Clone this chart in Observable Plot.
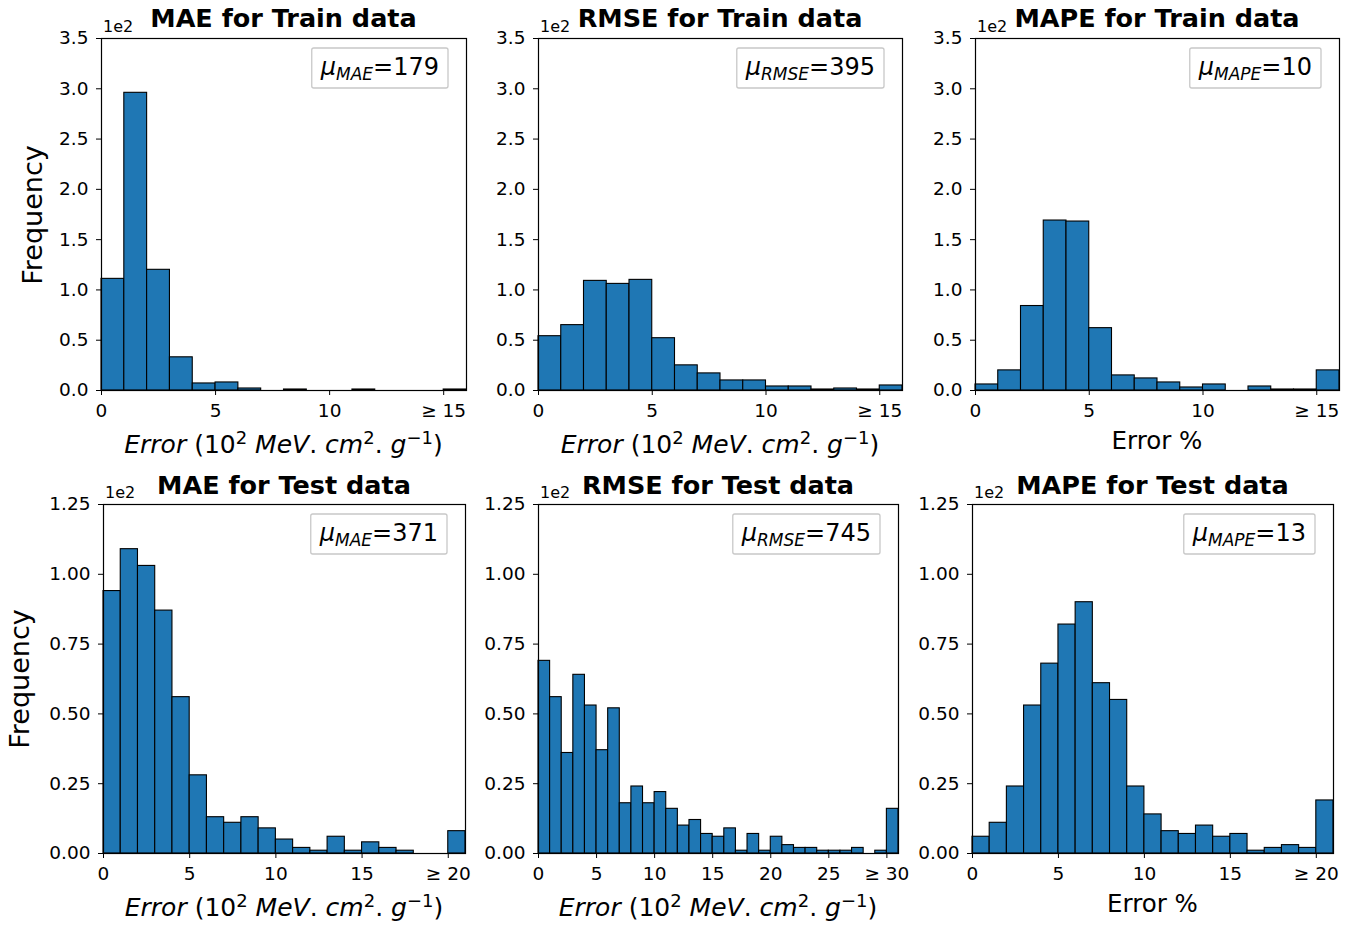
<!DOCTYPE html>
<html>
<head>
<meta charset="utf-8">
<script src="https://cdn.jsdelivr.net/npm/d3@7"></script>
<script src="https://cdn.jsdelivr.net/npm/@observablehq/plot@0.6"></script>
<style>
  html, body { margin: 0; padding: 0; background: #fff; }
  #fig { position: relative; width: 1356px; height: 926px; background: #fff; overflow: hidden; font-family: "DejaVu Sans", sans-serif; }
  #fig .panel { position: absolute; }
  #overlay { position: absolute; left: 0; top: 0; pointer-events: none; }
</style>
</head>
<body>
<div id="fig"></div>
<script>
// ---- Data (bin counts, bins of width 1; last bin is the overflow "≥" bin) ----
const maeTrain  = [111, 296, 120, 33, 7, 8, 2, 0, 1, 0, 0, 1, 0, 0, 0, 1];
const rmseTrain = [54, 65, 109, 106, 110, 52, 25, 17, 10, 10, 4, 4, 1, 2, 1, 5];
const mapeTrain = [6, 20, 84, 169, 168, 62, 15, 12, 8, 3, 6, 0, 4, 1, 1, 20];
const maeTest   = [94, 109, 103, 87, 56, 28, 13, 11, 13, 9, 5, 2, 1, 6, 1, 4, 2, 1, 0, 0, 8];
const rmseTest  = [69, 56, 36, 64, 53, 37, 52, 18, 24, 18, 22, 16, 10, 12, 7, 6, 9, 1, 7, 1, 6, 3, 2, 2, 1, 1, 1, 2, 0, 1, 16];
const mapeTest  = [6, 11, 24, 53, 68, 82, 90, 61, 55, 24, 14, 8, 7, 10, 6, 7, 1, 2, 3, 2, 19];

const titles = ["MAE for Train data", "RMSE for Train data", "MAPE for Train data",
                "MAE for Test data", "RMSE for Test data", "MAPE for Test data"];
const muNames  = ["MAE", "RMSE", "MAPE", "MAE", "RMSE", "MAPE"];
const muValues = ["179", "395", "10", "371", "745", "13"];

const xTicksTrain = [0, 5, 10, 15];
const xLabelsTrain = ["0", "5", "10", "≥ 15"];
const xTicksTest20 = [0, 5, 10, 15, 20];
const xLabelsTest20 = ["0", "5", "10", "15", "≥ 20"];
const xTicksTest30 = [0, 5, 10, 15, 20, 25, 30];
const xLabelsTest30 = ["0", "5", "10", "15", "20", "25", "≥ 30"];
const yTicksTrain = [0, 50, 100, 150, 200, 250, 300, 350];
const yTicksTest = [0, 25, 50, 75, 100, 125];

// ---- Layout ----
const fig = document.getElementById("fig");
const panels = [
  {data: maeTrain,  fl: 101, fr: 466, ft: 38,  fb: 390, ymax: 350, yt: yTicksTrain, yd: 1, xt: xTicksTrain, xl: xLabelsTrain, lab: "unit"},
  {data: rmseTrain, fl: 538, fr: 902, ft: 38,  fb: 390, ymax: 350, yt: yTicksTrain, yd: 1, xt: xTicksTrain, xl: xLabelsTrain, lab: "unit"},
  {data: mapeTrain, fl: 975, fr: 1339, ft: 38, fb: 390, ymax: 350, yt: yTicksTrain, yd: 1, xt: xTicksTrain, xl: xLabelsTrain, lab: "pct"},
  {data: maeTest,   fl: 103, fr: 465, ft: 504, fb: 853, ymax: 125, yt: yTicksTest, yd: 2, xt: xTicksTest20, xl: xLabelsTest20, lab: "unit"},
  {data: rmseTest,  fl: 538, fr: 898, ft: 504, fb: 853, ymax: 125, yt: yTicksTest, yd: 2, xt: xTicksTest30, xl: xLabelsTest30, lab: "unit"},
  {data: mapeTest,  fl: 972, fr: 1333, ft: 504, fb: 853, ymax: 125, yt: yTicksTest, yd: 2, xt: xTicksTest20, xl: xLabelsTest20, lab: "pct"}
];

const ML = 80, MT = 10, MR = 10, MB = 45;
panels.forEach((p) => {
  const rows = p.data.map((c, i) => ({x1: i, x2: i + 1, count: c}));
  const w = p.fr - p.fl, h = p.fb - p.ft;
  const lblMap = new Map(p.xt.map((t, i) => [t, p.xl[i]]));
  const chart = Plot.plot({
    width: w + ML + MR,
    height: h + MT + MB,
    marginLeft: ML, marginTop: MT, marginRight: MR, marginBottom: MB,
    style: {fontFamily: "DejaVu Sans", fontSize: "18.5px", color: "black", background: "transparent", overflow: "visible"},
    x: {domain: [0, p.data.length], ticks: p.xt, tickFormat: d => lblMap.get(d), tickSize: 5, tickPadding: 8, label: null},
    y: {domain: [0, p.ymax], ticks: p.yt, tickFormat: d => (d / 100).toFixed(p.yd), tickSize: 5, tickPadding: 8, label: null},
    marks: [
      Plot.rectY(rows, {x1: "x1", x2: "x2", y: "count", fill: "#1f77b4", stroke: "black", strokeWidth: 1.1}),
      Plot.frame({stroke: "black", strokeWidth: 1.2})
    ]
  });
  const holder = document.createElement("div");
  holder.className = "panel";
  holder.style.left = (p.fl - ML) + "px";
  holder.style.top = (p.ft - MT) + "px";
  holder.appendChild(chart);
  fig.appendChild(holder);
});

// ---- Text overlay (titles, offsets, legends, axis labels) ----
const svg = d3.select(fig).append("svg").attr("id", "overlay")
  .attr("width", 1356).attr("height", 926)
  .style("font-family", "DejaVu Sans");

panels.forEach((p, k) => {
  const cx = (p.fl + p.fr) / 2;
  const top = k < 3;
  // title
  svg.append("text").attr("x", cx).attr("y", top ? 27 : 494)
    .attr("text-anchor", "middle").attr("font-size", 25.5).attr("font-weight", "bold").text(titles[k]);
  // offset text
  svg.append("text").attr("x", p.fl + 2).attr("y", p.ft - 6)
    .attr("font-size", 16).text("1e2");
  // legend box
  const g = svg.append("g");
  const t = g.append("text").attr("x", 0).attr("y", p.ft + 37).attr("font-size", 24);
  t.append("tspan").attr("font-style", "italic").text("μ");
  t.append("tspan").attr("font-style", "italic").attr("font-size", 17).attr("dy", 5).text(muNames[k]);
  t.append("tspan").attr("dy", -5).text("=" + muValues[k]);
  const tw = t.node().getComputedTextLength();
  const boxW = tw + 18;
  const bx = p.fr - 18 - boxW;
  t.attr("x", bx + 9);
  g.insert("rect", "text").attr("x", bx).attr("y", p.ft + 10).attr("width", boxW).attr("height", 40)
    .attr("rx", 2).attr("fill", "white").attr("stroke", "#c8c8c8").attr("stroke-width", 1.3);
  // x label
  if (p.lab === "pct") {
    svg.append("text").attr("x", cx).attr("y", top ? 449 : 912)
      .attr("text-anchor", "middle").attr("font-size", 24.5).text("Error %");
  } else {
    const xl = svg.append("text").attr("x", cx).attr("y", top ? 453 : 916)
      .attr("text-anchor", "middle").attr("font-size", 25);
    xl.append("tspan").attr("font-style", "italic").text("Error");
    xl.append("tspan").text(" (10");
    xl.append("tspan").attr("font-size", 18).attr("dy", -9).text("2");
    xl.append("tspan").attr("dy", 9).attr("font-style", "italic").text("  MeV");
    xl.append("tspan").text(". ");
    xl.append("tspan").attr("font-style", "italic").text("cm");
    xl.append("tspan").attr("font-size", 18).attr("dy", -9).text("2");
    xl.append("tspan").attr("dy", 9).text(". ");
    xl.append("tspan").attr("font-style", "italic").text("g");
    xl.append("tspan").attr("font-size", 18).attr("dy", -9).text("−1");
    xl.append("tspan").attr("dy", 9).text(")");
  }
});

// y labels
[[42, 215], [29, 679]].forEach(([x, y]) => {
  svg.append("text").attr("transform", `translate(${x},${y}) rotate(-90)`)
    .attr("text-anchor", "middle").attr("font-size", 27).text("Frequency");
});
</script>
</body>
</html>
